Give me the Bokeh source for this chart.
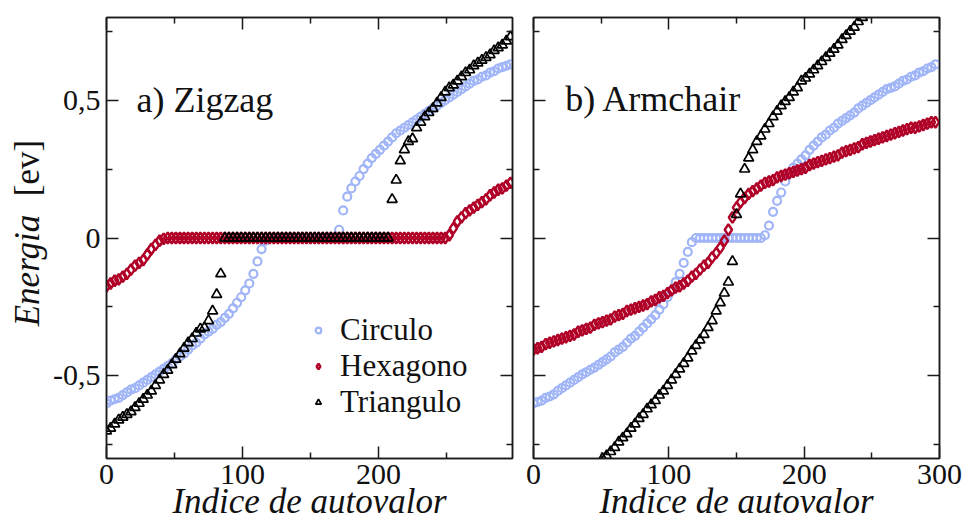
import math
from bokeh.plotting import figure
from bokeh.layouts import row
from bokeh.models import (Range1d, FixedTicker, LinearAxis, Label, Legend, LegendItem,
                          CustomLabelingPolicy)
from bokeh.embed import file_html
from bokeh.resources import INLINE

# ---------------- data ----------------
idx = list(range(0, 300, 3))            # eigenvalue index, sampled every 3

zig_circulo = [
    -0.600, -0.590, -0.585, -0.580, -0.570, -0.560, -0.550, -0.545, -0.535, -0.525,
    -0.515, -0.505, -0.495, -0.485, -0.475, -0.465, -0.455, -0.440, -0.430, -0.420,
    -0.405, -0.390, -0.380, -0.365, -0.350, -0.340, -0.330, -0.315, -0.305, -0.290,
    -0.275, -0.255, -0.235, -0.215, -0.190, -0.165, -0.130, -0.085, -0.040, -0.010,
    0.0, 0.0, 0.0, 0.0, 0.0, 0.0, 0.0, 0.0, 0.0, 0.0,
    0.0, 0.0, 0.0, 0.0, 0.0, 0.0, 0.000, 0.030, 0.100, 0.150,
    0.180, 0.205, 0.225, 0.250, 0.270, 0.290, 0.305, 0.320, 0.335, 0.350,
    0.365, 0.380, 0.390, 0.400, 0.410, 0.420, 0.430, 0.440, 0.450, 0.460,
    0.470, 0.480, 0.490, 0.500, 0.510, 0.520, 0.530, 0.540, 0.550, 0.560,
    0.570, 0.575, 0.585, 0.590, 0.600, 0.605, 0.615, 0.620, 0.625, 0.630,
]
zig_hexagono = [
    -0.175, -0.165, -0.155, -0.150, -0.140, -0.130, -0.115, -0.100, -0.090, -0.080,
    -0.060, -0.040, -0.025, -0.010, -0.003, 0.0, 0.0, 0.0, 0.0, 0.0,
    0.0, 0.0, 0.0, 0.0, 0.0, 0.0, 0.0, 0.0, 0.0, 0.0,
    0.0, 0.0, 0.0, 0.0, 0.0, 0.0, 0.0, 0.0, 0.0, 0.0,
    0.0, 0.0, 0.0, 0.0, 0.0, 0.0, 0.0, 0.0, 0.0, 0.0,
    0.0, 0.0, 0.0, 0.0, 0.0, 0.0, 0.0, 0.0, 0.0, 0.0,
    0.0, 0.0, 0.0, 0.0, 0.0, 0.0, 0.0, 0.0, 0.0, 0.0,
    0.0, 0.0, 0.0, 0.0, 0.0, 0.0, 0.0, 0.0, 0.0, 0.0,
    0.0, 0.0, 0.0, 0.0, 0.010, 0.035, 0.060, 0.075, 0.090, 0.100,
    0.110, 0.120, 0.130, 0.140, 0.155, 0.165, 0.175, 0.180, 0.190, 0.200,
]
zig_triangulo = [
    -0.700, -0.690, -0.675, -0.660, -0.650, -0.640, -0.630, -0.615, -0.600, -0.585,
    -0.570, -0.555, -0.535, -0.515, -0.495, -0.480, -0.460, -0.440, -0.420, -0.400,
    -0.380, -0.365, -0.345, -0.330, -0.325, -0.300, -0.265, -0.205, -0.130, 0.0,
    0.0, 0.0, 0.0, 0.0, 0.0, 0.0, 0.0, 0.0, 0.0, 0.0,
    0.0, 0.0, 0.0, 0.0, 0.0, 0.0, 0.0, 0.0, 0.0, 0.0,
    0.0, 0.0, 0.0, 0.0, 0.0, 0.0, 0.0, 0.0, 0.0, 0.0,
    0.0, 0.0, 0.0, 0.0, 0.0, 0.0, 0.0, 0.0, 0.0, 0.0,
    0.140, 0.210, 0.280, 0.320, 0.350, 0.360, 0.400, 0.420, 0.440, 0.455,
    0.470, 0.490, 0.510, 0.530, 0.545, 0.555, 0.570, 0.585, 0.600, 0.610,
    0.625, 0.635, 0.645, 0.655, 0.665, 0.680, 0.690, 0.700, 0.715, 0.730,
]

arm_circulo = [
    -0.600, -0.595, -0.590, -0.580, -0.575, -0.567, -0.555, -0.545, -0.535, -0.525,
    -0.515, -0.505, -0.495, -0.487, -0.478, -0.470, -0.460, -0.450, -0.440, -0.430,
    -0.415, -0.405, -0.395, -0.380, -0.365, -0.355, -0.340, -0.325, -0.310, -0.295,
    -0.280, -0.260, -0.240, -0.215, -0.190, -0.160, -0.130, -0.090, -0.050, -0.015,
    0.0, 0.0, 0.0, 0.0, 0.0, 0.0, 0.0, 0.0, 0.0, 0.0,
    0.0, 0.0, 0.0, 0.0, 0.0, 0.0, 0.0, 0.010, 0.045, 0.095,
    0.135, 0.165, 0.205, 0.235, 0.255, 0.270, 0.285, 0.300, 0.320, 0.335,
    0.350, 0.365, 0.375, 0.390, 0.400, 0.415, 0.425, 0.435, 0.445, 0.455,
    0.470, 0.480, 0.490, 0.500, 0.510, 0.520, 0.530, 0.540, 0.545, 0.550,
    0.560, 0.570, 0.575, 0.585, 0.590, 0.600, 0.605, 0.615, 0.620, 0.630,
]
arm_hexagono = [
    -0.405, -0.400, -0.395, -0.385, -0.380, -0.375, -0.370, -0.365, -0.360, -0.355,
    -0.350, -0.340, -0.335, -0.330, -0.325, -0.315, -0.310, -0.305, -0.300, -0.295,
    -0.285, -0.280, -0.275, -0.265, -0.260, -0.255, -0.250, -0.245, -0.240, -0.230,
    -0.225, -0.215, -0.210, -0.200, -0.190, -0.180, -0.175, -0.165, -0.155, -0.140,
    -0.130, -0.115, -0.100, -0.090, -0.070, -0.055, -0.035, -0.010, 0.030, 0.075,
    0.110, 0.130, 0.145, 0.160, 0.170, 0.180, 0.190, 0.200, 0.205, 0.210,
    0.220, 0.225, 0.230, 0.235, 0.240, 0.245, 0.250, 0.255, 0.265, 0.270,
    0.275, 0.280, 0.285, 0.290, 0.295, 0.300, 0.310, 0.315, 0.320, 0.325,
    0.330, 0.340, 0.345, 0.350, 0.355, 0.360, 0.365, 0.370, 0.375, 0.380,
    0.385, 0.390, 0.395, 0.400, 0.400, 0.405, 0.410, 0.415, 0.420, 0.420,
]
arm_tri_idx = list(range(51, 244, 3))
arm_triangulo = [
    -0.800, -0.790, -0.775, -0.760, -0.740, -0.725, -0.710, -0.690, -0.675, -0.655,
    -0.640, -0.620, -0.605, -0.590, -0.570, -0.555, -0.535, -0.515, -0.495, -0.475,
    -0.455, -0.435, -0.410, -0.390, -0.370, -0.350, -0.325, -0.300, -0.265, -0.235,
    -0.200, -0.160, -0.085, 0.085, 0.160, 0.250, 0.290, 0.320, 0.350, 0.370,
    0.395, 0.415, 0.440, 0.460, 0.480, 0.495, 0.510, 0.530, 0.545, 0.570,
    0.580, 0.595, 0.610, 0.625, 0.640, 0.655, 0.670, 0.685, 0.700, 0.720,
    0.735, 0.750, 0.765, 0.785, 0.800,
]

series_names = ["Circulo", "Hexagono", "Triangulo"]
y_ticks = [-0.5, 0.0, 0.5]
y_tick_labels = {-0.5: "-0,5", 0.0: "0", 0.5: "0,5"}
y_minor = [-0.75, -0.25, 0.25, 0.75]
x_ticks_left = [0, 100, 200]
x_ticks_right = [0, 100, 200, 300]
x_minor = [50, 150, 250]
x_title = "Indice de autovalor"

# ---------------- style ----------------
SERIF = "Liberation Serif"
BLUE = "#a0b5f7"
RED = "#b00028"
BLACK = "#000000"
FRAME = "#1a1a1a"
TEXT = "#111111"

NO_LABELS = CustomLabelingPolicy(code="""
try { for (let i = 0; i < indices.size; i++) { indices.unset(i) } } catch (e) {}
return indices
""")


def style_axis(ax, ticker, show_labels, standoff=4):
    ax.ticker = ticker
    ax.major_tick_in = 12
    ax.major_tick_out = 0
    ax.minor_tick_in = 6
    ax.minor_tick_out = 0
    ax.axis_line_color = FRAME
    ax.axis_line_width = 1.5
    ax.major_tick_line_color = FRAME
    ax.major_tick_line_width = 1.5
    ax.minor_tick_line_color = FRAME
    ax.minor_tick_line_width = 1.5
    ax.major_label_text_font = SERIF
    ax.major_label_text_color = TEXT
    ax.major_label_text_font_size = "30px"
    if show_labels:
        ax.major_label_standoff = standoff
    else:
        ax.major_label_standoff = 0
        ax.major_label_overrides = {t: "" for t in ticker.ticks}
        ax.major_label_policy = NO_LABELS


def make_panel(width, border_left, border_right, x_end, xticks, show_y_labels):
    p = figure(width=width, height=523,
               x_range=Range1d(0, x_end), y_range=Range1d(-0.8, 0.8),
               output_backend="svg", toolbar_location=None,
               min_border_left=border_left, min_border_right=border_right,
               min_border_top=17, min_border_bottom=63)
    p.xgrid.grid_line_color = None
    p.ygrid.grid_line_color = None
    p.outline_line_color = FRAME
    p.outline_line_width = 1.5
    p.background_fill_color = "white"
    p.border_fill_color = "white"

    style_axis(p.xaxis[0], FixedTicker(ticks=xticks, minor_ticks=x_minor), True, standoff=6)
    style_axis(p.yaxis[0], FixedTicker(ticks=y_ticks, minor_ticks=y_minor), show_y_labels, standoff=6)
    if show_y_labels:
        p.yaxis[0].major_label_overrides = y_tick_labels
    xa = p.xaxis[0]
    xa.axis_label = x_title
    xa.axis_label_text_font = SERIF
    xa.axis_label_text_font_style = "italic"
    xa.axis_label_text_font_size = "35px"
    xa.axis_label_text_color = TEXT
    xa.axis_label_standoff = -5

    top = LinearAxis()
    style_axis(top, FixedTicker(ticks=xticks, minor_ticks=x_minor), False)
    right = LinearAxis()
    style_axis(right, FixedTicker(ticks=y_ticks, minor_ticks=y_minor), False)
    p.add_layout(top, "above")
    p.add_layout(right, "right")
    return p


def add_series(p, xc, yc, xh, yh, xt, yt):
    rc = p.scatter(xc, yc, marker="circle", size=8, fill_color=None,
                   line_color=BLUE, line_width=2.2)
    rh = p.scatter(xh, yh, marker="diamond", size=11, fill_color=None,
                   line_color=RED, line_width=2.4)
    rt = p.scatter(xt, yt, marker="triangle", size=10, fill_color=None,
                   line_color=BLACK, line_width=1.7)
    return rc, rh, rt


# ---------------- y title strip (mixed italic / upright) ----------------
ylab = figure(width=50, height=523, x_range=Range1d(0, 50), y_range=Range1d(0, 523),
              output_backend="svg", toolbar_location=None, title=None,
              min_border_left=0, min_border_right=0, min_border_top=0, min_border_bottom=0)
ylab.axis.visible = False
ylab.xgrid.grid_line_color = None
ylab.ygrid.grid_line_color = None
ylab.outline_line_color = None
ylab.add_layout(Label(x=27, y=289, text="Energia", angle=math.pi / 2,
                      text_align="right", text_baseline="alphabetic",
                      text_font=SERIF, text_font_style="italic",
                      text_font_size="35px", text_color=TEXT))
ylab.add_layout(Label(x=27, y=311, text="[ev]", angle=math.pi / 2,
                      text_align="left", text_baseline="alphabetic",
                      text_font=SERIF, text_font_size="35px", text_color=TEXT))

# ---------------- left panel: zigzag ----------------
left = make_panel(472, 56, 10, 298.5, x_ticks_left, True)
rc, rh, rt = add_series(left, idx, zig_circulo, idx, zig_hexagono, idx, zig_triangulo)

left.add_layout(Label(x=22, y=0.5, text="a) Zigzag", text_font=SERIF,
                      text_font_size="36px", text_color=TEXT,
                      text_align="left", text_baseline="alphabetic"))

legend = Legend(items=[LegendItem(label=series_names[0], renderers=[rc]),
                       LegendItem(label=series_names[1], renderers=[rh]),
                       LegendItem(label=series_names[2], renderers=[rt])],
                location=(205, 38), orientation="vertical",
                label_text_font=SERIF, label_text_font_size="31px",
                label_text_color=TEXT,
                glyph_width=14, glyph_height=20, label_height=20,
                label_standoff=15, spacing=0, padding=0, margin=0,
                background_fill_alpha=0, border_line_color=None)
left.add_layout(legend)

# ---------------- right panel: armchair ----------------
rightp = make_panel(445, 11, 28, 300, x_ticks_right, False)
add_series(rightp, idx, arm_circulo, idx, arm_hexagono, arm_tri_idx, arm_triangulo)
rightp.add_layout(Label(x=23.5, y=0.505, text="b) Armchair", text_font=SERIF,
                        text_font_size="36px", text_color=TEXT,
                        text_align="left", text_baseline="alphabetic"))

layout = row(ylab, left, rightp, spacing=0)
open("out.html", "w").write(file_html(layout, INLINE))
